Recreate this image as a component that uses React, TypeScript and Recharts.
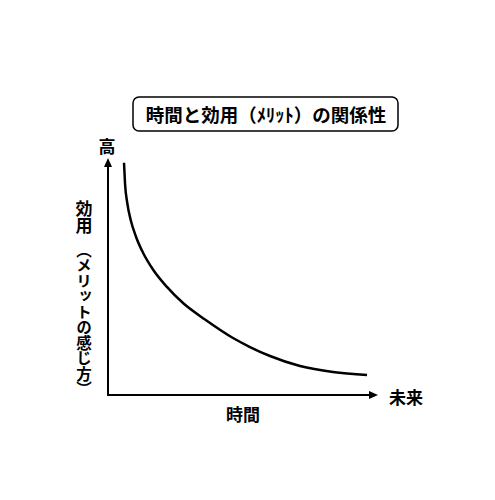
import React from "react";
import { LineChart, Line, XAxis, YAxis, ReferenceDot, ReferenceLine, Customized } from "recharts";

// Time (0-100 along x) and utility (0-100 along y)
const time = [5.93, 6.3, 7.15, 8.41, 10.37, 13.07, 16.78, 21.74, 27.89, 35.93, 46.3, 52.59, 60.0, 71.11, 83.33, 95.93];
const utility = [98.02, 89.32, 80.89, 73.84, 66.79, 59.79, 52.74, 45.7, 38.69, 31.86, 24.05, 20.25, 16.46, 12.24, 9.7, 8.44];

const title = "時間と効用（ﾒﾘｯﾄ）の関係性";
const xLabel = "時間";
const xEndLabel = "未来";
const yTopLabel = "高";
const yLabel = "効用";
const ySubLabel = "（メリットの感じ方）";

const data = time.map((t, i) => ({ t, u: utility[i] }));

const W = 495;
const H = 500;
const margin = { top: 158, left: 108, right: 117, bottom: 105 };
const FONT = "'Noto Sans CJK JP', 'Noto Sans', sans-serif";

const UpArrow = (props: any) => {
  const { cx, cy } = props;
  return <path d={`M${cx},${cy} L${cx - 4},${cy + 9} L${cx + 4},${cy + 9} Z`} fill="#000" />;
};
const RightArrow = (props: any) => {
  const { cx, cy } = props;
  return <path d={`M${cx},${cy} L${cx - 9},${cy - 4} L${cx - 9},${cy + 4} Z`} fill="#000" />;
};

const Labels = () => (
  <g fontFamily={FONT} fontWeight="bold" fill="#000">
    <rect x={133} y={97} width={265} height={34} rx={6} ry={6} fill="#fff" stroke="#000" strokeWidth={1.5} />
    <text x={266} y={114} textAnchor="middle" dominantBaseline="central" fontSize={18.5}>
      {title}
    </text>
    <text x={107} y={145} textAnchor="middle" dominantBaseline="central" fontSize={17}>
      {yTopLabel}
    </text>
    <text x={84} y={200} fontSize={17} style={{ writingMode: "vertical-rl" as any }}>
      {yLabel}
    </text>
    <text x={84} y={242} fontSize={15.5} style={{ writingMode: "vertical-rl" as any }}>
      {ySubLabel}
    </text>
    <text x={389} y={396} dominantBaseline="central" fontSize={17}>
      {xEndLabel}
    </text>
    <text x={243} y={413} textAnchor="middle" dominantBaseline="central" fontSize={17}>
      {xLabel}
    </text>
  </g>
);

export default function App() {
  return (
    <div style={{ position: "absolute", left: 0, top: 0, width: W, height: H, background: "#fff" }}>
      <LineChart width={W} height={H} data={data} margin={margin}>
        <XAxis dataKey="t" type="number" domain={[0, 100]} hide />
        <YAxis type="number" domain={[0, 100]} hide />
        <ReferenceLine
          segment={[{ x: 0, y: 0 }, { x: 0, y: 97 }]}
          stroke="#000"
          strokeWidth={2}
          ifOverflow="visible"
        />
        <ReferenceLine
          segment={[{ x: -0.35, y: 0 }, { x: 97, y: 0 }]}
          stroke="#000"
          strokeWidth={2}
          ifOverflow="visible"
        />
        <Line
          dataKey="u"
          type="monotone"
          stroke="#000"
          strokeWidth={2.5}
          dot={false}
          isAnimationActive={false}
        />
        <ReferenceDot x={0} y={100} ifOverflow="visible" shape={UpArrow} />
        <ReferenceDot x={100} y={0} ifOverflow="visible" shape={RightArrow} />
        <Customized component={Labels} />
      </LineChart>
    </div>
  );
}
